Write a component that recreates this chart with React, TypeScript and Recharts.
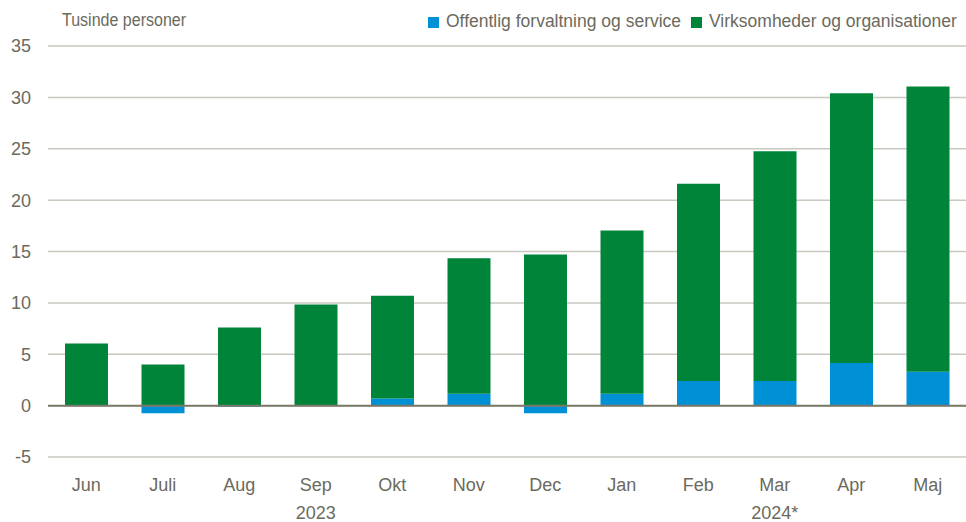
import { Bar, BarChart, CartesianGrid, ReferenceLine, XAxis, YAxis } from 'recharts';

const months = ['Jun', 'Juli', 'Aug', 'Sep', 'Okt', 'Nov', 'Dec', 'Jan', 'Feb', 'Mar', 'Apr', 'Maj'];
const yearLabels = ['', '', '', '2023', '', '', '', '', '', '2024*', '', ''];
const offentlig = [0.05, -0.75, -0.1, 0, 0.7, 1.15, -0.75, 1.15, 2.4, 2.4, 4.15, 3.3];
const virksomheder = [6.0, 4.0, 7.6, 9.85, 10.0, 13.2, 14.7, 15.9, 19.2, 22.35, 26.25, 27.75];
const yTicks = [-5, 0, 5, 10, 15, 20, 25, 30, 35];

const data = months.map((month, i) => ({
  month,
  offentlig: offentlig[i],
  virksomheder: virksomheder[i],
}));

const FONT = "'Liberation Sans', Arial, sans-serif";
const TEXT = '#6b6a5e';
const BLUE = '#0090d5';
const GREEN = '#00843a';

// måned + årstal under udvalgte måneder
const MonthTick = (props: any) => {
  const { x, y, payload, index } = props;
  return (
    <g>
      <text x={x} y={y + 26} textAnchor='middle' fill={TEXT} fontSize={18} fontFamily={FONT}>
        {payload.value}
      </text>
      {yearLabels[index] ? (
        <text x={x} y={y + 54} textAnchor='middle' fill={TEXT} fontSize={18} fontFamily={FONT}>
          {yearLabels[index]}
        </text>
      ) : null}
    </g>
  );
};

const legendText = { position: 'absolute' as const, top: 11, fontFamily: FONT, fontSize: 17.5, color: TEXT, whiteSpace: 'nowrap' as const };

export default function App() {
  return (
    <div style={{ position: 'absolute', left: 0, top: 0, width: 966, height: 522, background: '#fff' }}>
      <div
        style={{
          position: 'absolute',
          left: 62,
          top: 10,
          fontFamily: FONT,
          fontSize: 18,
          color: TEXT,
          whiteSpace: 'nowrap',
          transform: 'scaleX(0.89)',
          transformOrigin: 'left',
        }}
      >
        Tusinde personer
      </div>
      <div style={{ position: 'absolute', left: 428, top: 17, width: 11, height: 11, background: BLUE }} />
      <div style={{ ...legendText, left: 446 }}>Offentlig forvaltning og service</div>
      <div style={{ position: 'absolute', left: 691, top: 17, width: 11, height: 11, background: GREEN }} />
      <div style={{ ...legendText, left: 709 }}>Virksomheder og organisationer</div>
      <BarChart
        width={966}
        height={522}
        data={data}
        stackOffset='sign'
        barSize={43}
        margin={{ top: 46, right: 0, left: 0, bottom: 0 }}
      >
        <CartesianGrid vertical={false} stroke='#c8c8c0' strokeWidth={1.5} />
        <XAxis dataKey='month' axisLine={false} tickLine={false} height={65} tick={<MonthTick />} interval={0} />
        <YAxis
          width={48}
          domain={[-5, 35]}
          ticks={yTicks}
          axisLine={false}
          tickLine={false}
          tickMargin={11}
          tick={{ fill: TEXT, fontSize: 18, fontFamily: FONT }}
        />
        <Bar dataKey='offentlig' name='Offentlig forvaltning og service' stackId='a' fill={BLUE} isAnimationActive={false} />
        <Bar dataKey='virksomheder' name='Virksomheder og organisationer' stackId='a' fill={GREEN} isAnimationActive={false} />
        <ReferenceLine y={0} stroke='#7a7968' strokeWidth={2} />
      </BarChart>
    </div>
  );
}
